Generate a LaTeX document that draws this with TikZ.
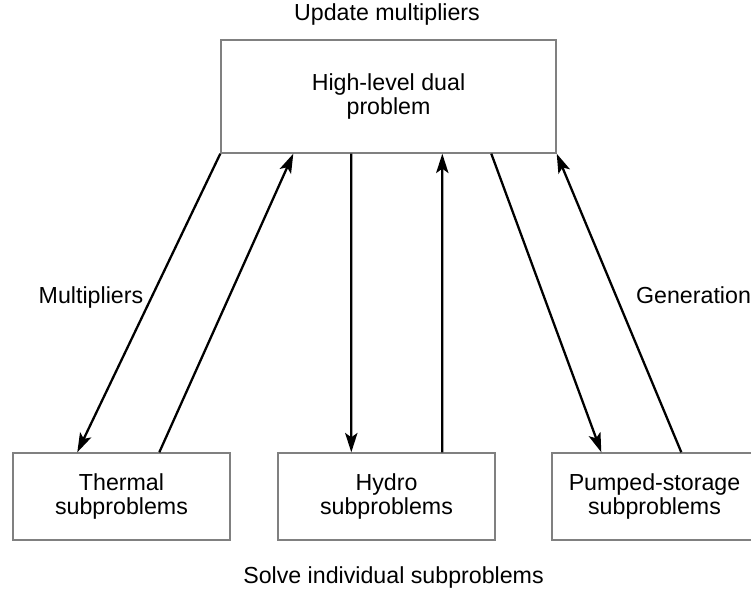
\documentclass[tikz,border=0pt]{standalone}
\usepackage{fontspec}
\setmainfont{Liberation Sans}
\usetikzlibrary{arrows.meta, calc}

\begin{document}
\begin{tikzpicture}[
    box/.style={draw=black!50, line width=0.8pt, minimum height=1.74cm, align=center, font=\fontsize{13.2}{14.2}\selectfont},
    lbl/.style={font=\fontsize{13.2}{14.2}\selectfont, inner sep=0pt},
    link/.style={-{Stealth[length=11pt, width=7pt, inset=2.5pt]}, line width=1.3pt},
    >=Stealth
]
\useasboundingbox (0,0) rectangle (15.02,-11.84);

% Master problem
\node[box, minimum width=6.70cm, minimum height=2.26cm] (dual) at (7.77,-1.93) {High-level dual\\problem};
\node[lbl, anchor=base] (upd) at (7.74,-0.41) {Update multipliers};

% Subproblems
\node[box, minimum width=4.34cm] (thermal) at (2.43,-9.93) {Thermal\\subproblems};
\node[box, minimum width=4.34cm] (hydro) at (7.73,-9.93) {Hydro\\subproblems};
\node[box, minimum width=4.10cm] (pumped) at (13.09,-9.93) {Pumped-storage\\subproblems};
\node[lbl, anchor=base] (solve) at (7.87,-11.66) {Solve individual subproblems};

% Thermal
\draw[link] (dual.south west) -- node[lbl, pos=0.5, anchor=base east, xshift=-0.09cm] {Multipliers} ($(thermal.north west)+(1.30,0)$);
\draw[link] ($(thermal.north west)+(2.94,0)$) -- ($(dual.south west)+(1.46,0)$);

% Hydro
\draw[link] ($(dual.south west)+(2.62,0)$) -- ($(hydro.north west)+(1.48,0)$);
\draw[link] ($(hydro.north west)+(3.30,0)$) -- ($(dual.south west)+(4.44,0)$);

% Pumped storage
\draw[link] ($(dual.south west)+(5.42,0)$) -- ($(pumped.north west)+(1.00,0)$);
\draw[link] ($(pumped.north west)+(2.60,0)$) -- node[lbl, pos=0.5, anchor=base west, xshift=0.32cm] {Generation} (dual.south east);

\end{tikzpicture}
\end{document}
